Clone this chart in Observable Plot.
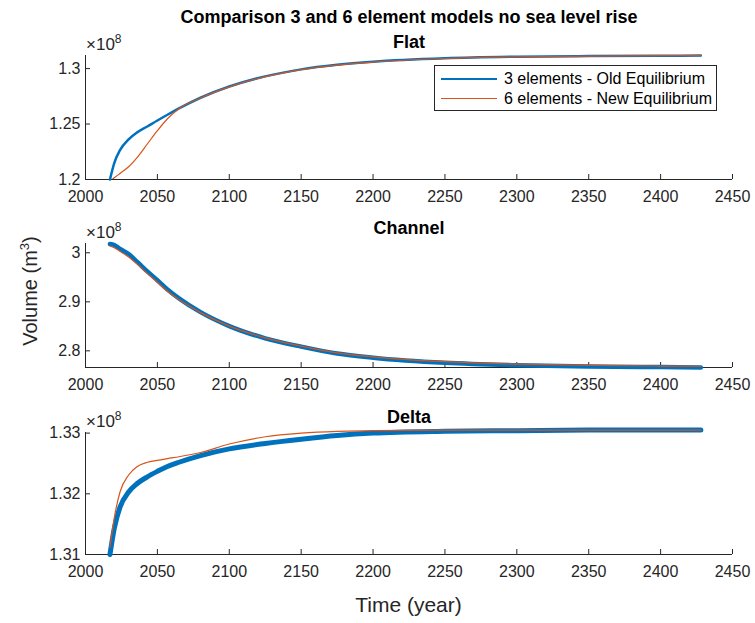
<!DOCTYPE html>
<html>
<head>
<meta charset="utf-8">
<script src="https://cdn.jsdelivr.net/npm/d3@7"></script>
<script src="https://cdn.jsdelivr.net/npm/@observablehq/plot@0.6"></script>
<style>
  body { margin: 0; background: white; }
  #chart { position: relative; width: 755px; height: 623px; background: white;
           font-family: "Liberation Sans", Arial, Helvetica, sans-serif; color: #262626; }
  .panel { position: absolute; left: 0; }
  .mult { position: absolute; left: 86px; font-size: 17px; line-height: 17px; white-space: nowrap; color: #262626; }
  .mult sup { font-size: 12px; vertical-align: 7px; line-height: 0; }
  #ylabel { position: absolute; left: 30px; top: 291px; transform: translate(-50%, -50%) rotate(-90deg);
            font-size: 20px; white-space: nowrap; color: #262626; line-height: 1; }
  #ylabel sup { font-size: 13px; vertical-align: 8px; line-height: 0; }
  #xlabel { position: absolute; left: 85px; width: 647px; top: 594px; text-align: center;
            font-size: 21px; line-height: 21px; color: #262626; }
  #legend { position: absolute; left: 434px; top: 65px; width: 283px; height: 46px; box-sizing: border-box;
            border: 1px solid #262626; background: white; font-size: 16px; }
  #legend .row { position: absolute; left: 0; height: 20px; width: 100%; }
  #legend .swatch { position: absolute; left: 6px; width: 56px; top: 50%; }
  #legend .label { position: absolute; left: 69px; top: 0; line-height: 20px; white-space: nowrap; color: #000; }
</style>
</head>
<body>
<div id="chart"></div>
<script>
// ---- data (volumes in units of 10^8 m^3) ----
const years = [2017, 2020, 2024, 2030, 2036, 2043, 2050, 2057, 2065, 2080, 2100, 2125, 2150, 2175, 2200, 2250, 2300, 2350, 2400, 2428];

const flat3 = [1.2000, 1.2148, 1.2265, 1.2362, 1.2425, 1.2478, 1.2532, 1.2584, 1.2641, 1.2737, 1.2838, 1.2930, 1.2993, 1.3034, 1.3062, 1.3093, 1.3107, 1.3113, 1.3116, 1.3117];
const flat6 = [1.1985, 1.2015, 1.2055, 1.2115, 1.2200, 1.2320, 1.2440, 1.2548, 1.2638, 1.2735, 1.2835, 1.2927, 1.2990, 1.3031, 1.3059, 1.3091, 1.3106, 1.3112, 1.3116, 1.3117];

const channel3 = [3.0180, 3.0160, 3.0080, 2.9975, 2.9815, 2.9620, 2.9440, 2.9250, 2.9070, 2.8790, 2.8505, 2.8255, 2.8085, 2.7945, 2.7860, 2.7755, 2.7705, 2.7680, 2.7668, 2.7662];
const channel6 = [3.0140, 3.0105, 3.0030, 2.9915, 2.9770, 2.9580, 2.9400, 2.9215, 2.9045, 2.8780, 2.8505, 2.8265, 2.8095, 2.7960, 2.7878, 2.7778, 2.7728, 2.7702, 2.7690, 2.7686];

const delta3 = [1.3100, 1.3143, 1.3178, 1.3203, 1.3217, 1.3228, 1.3237, 1.3245, 1.3252, 1.3263, 1.3274, 1.3283, 1.3290, 1.3296, 1.3300, 1.3303, 1.3304, 1.3305, 1.3305, 1.3305];
const delta6 = [1.3112, 1.3160, 1.3203, 1.3231, 1.3245, 1.3252, 1.3255, 1.3258, 1.3261, 1.3268, 1.3282, 1.3294, 1.3300, 1.3303, 1.3304, 1.3305, 1.3305, 1.3305, 1.3305, 1.3305];

const xTicks = [2000, 2050, 2100, 2150, 2200, 2250, 2300, 2350, 2400, 2450];
const flatTicks = [1.2, 1.25, 1.3];
const channelTicks = [2.8, 2.9, 3];
const deltaTicks = [1.31, 1.32, 1.33];

const flatDomain = [1.2, 1.3118];
const channelDomain = [2.766, 3.019];
const deltaDomain = [1.31, 1.3301];

const panelTitles = ["Flat", "Channel", "Delta"];
const seriesNames = ["3 elements - Old Equilibrium", "6 elements - New Equilibrium"];
const mainTitle = "Comparison 3 and 6 element models no sea level rise";
const xLabel = "Time (year)";
const multiplier = 8;

// ---- styling ----
const BLUE = "#0072BD", ORANGE = "#D95319", AXIS = "#262626";
const W = 755, ML = 85, MR = 23;
const frameW = W - ML - MR;

const panels = [
  {top: 0,   height: 200, mt: 55, mb: 21, s3: flat3,    s6: flat6,    ticks: flatTicks,    domain: flatDomain,    w3: 2.5, title: panelTitles[0], tdy: -13.5, main: true, clip6: true},
  {top: 200, height: 190, mt: 43, mb: 23, s3: channel3, s6: channel6, ticks: channelTicks, domain: channelDomain, w3: 4.5, title: panelTitles[1], tdy: -15, clip6: false},
  {top: 390, height: 190, mt: 42, mb: 26, s3: delta3,   s6: delta6,   ticks: deltaTicks,   domain: deltaDomain,   w3: 5,   title: panelTitles[2], tdy: -15.5, clip6: false}
];

const chart = document.getElementById("chart");

for (const p of panels) {
  const frameH = p.height - p.mt - p.mb;
  const d3data = years.map((t, i) => ({t, v: p.s3[i]}));
  const d6data = years.map((t, i) => ({t, v: p.s6[i]}));
  const marks = [
    Plot.ruleX([xTicks[0]], {stroke: AXIS, strokeWidth: 1}),
    Plot.ruleY([p.domain[0]], {stroke: AXIS, strokeWidth: 1}),
    Plot.tickX(xTicks, {x: d => d, stroke: AXIS, insetTop: frameH - 5}),
    Plot.tickY(p.ticks, {y: d => d, stroke: AXIS, insetRight: frameW - 5}),
    Plot.axisX(xTicks, {tickSize: 0, tickPadding: 11, label: null, fill: AXIS, tickFormat: d => String(d)}),
    Plot.axisY(p.ticks, {tickSize: 0, tickPadding: 5, label: null, fill: AXIS, tickFormat: d => String(d)}),
    Plot.line(d3data, {x: "t", y: "v", stroke: BLUE, strokeWidth: p.w3, curve: "monotone-x"}),
    Plot.line(d6data, {x: "t", y: "v", stroke: ORANGE, strokeWidth: 1.2, curve: "monotone-x", clip: p.clip6}),
    Plot.text([p.title], {frameAnchor: "top", lineAnchor: "middle", dy: p.tdy, fontWeight: "bold", fontSize: 18, fill: "#000"})
  ];
  if (p.main) {
    marks.push(Plot.text([mainTitle], {frameAnchor: "top", lineAnchor: "middle", dy: -38.5, fontWeight: "bold", fontSize: 18, fill: "#000"}));
  }
  const svg = Plot.plot({
    width: W, height: p.height,
    marginLeft: ML, marginRight: MR, marginTop: p.mt, marginBottom: p.mb,
    x: {domain: [2000, 2450]},
    y: {domain: p.domain},
    style: {fontFamily: '"Liberation Sans", Arial, Helvetica, sans-serif', fontSize: "16px", color: AXIS, background: "transparent", overflow: "visible"},
    marks
  });
  const wrap = document.createElement("div");
  wrap.className = "panel";
  wrap.style.top = p.top + "px";
  wrap.appendChild(svg);
  chart.appendChild(wrap);

  const m = document.createElement("div");
  m.className = "mult";
  m.style.top = (p.top + p.mt - 5 - 14.4) + "px";
  m.innerHTML = "×10<sup>" + multiplier + "</sup>";
  chart.appendChild(m);
}

// y label
const yl = document.createElement("div");
yl.id = "ylabel";
yl.innerHTML = "Volume (m<sup>3</sup>)";
chart.appendChild(yl);

// x label
const xl = document.createElement("div");
xl.id = "xlabel";
xl.textContent = xLabel;
chart.appendChild(xl);

// legend
const lg = document.createElement("div");
lg.id = "legend";
[[seriesNames[0], BLUE, 2.5, 3], [seriesNames[1], ORANGE, 1.2, 23]].forEach(([name, color, w, top]) => {
  const row = document.createElement("div");
  row.className = "row";
  row.style.top = top + "px";
  const sw = document.createElement("div");
  sw.className = "swatch";
  sw.style.borderTop = w + "px solid " + color;
  sw.style.marginTop = (-w / 2) + "px";
  const lb = document.createElement("div");
  lb.className = "label";
  lb.textContent = name;
  row.appendChild(sw);
  row.appendChild(lb);
  lg.appendChild(row);
});
chart.appendChild(lg);
</script>
</body>
</html>
